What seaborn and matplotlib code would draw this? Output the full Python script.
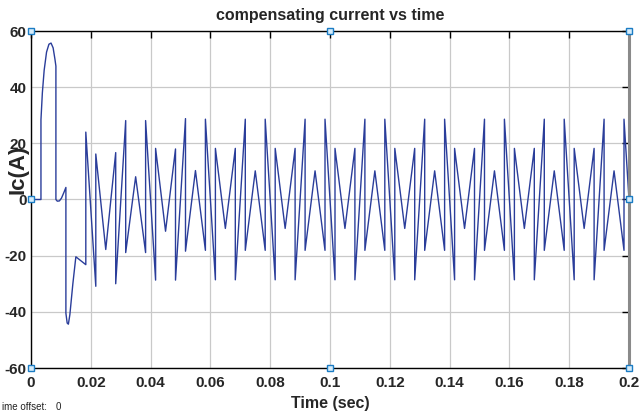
import matplotlib
matplotlib.use("Agg")
import matplotlib.pyplot as plt
from matplotlib import font_manager
import pandas as pd
import seaborn as sns

# Compensating current Ic (A) sampled against time (s)
time_s = [
    0.0, 0.00333, 0.00333, 0.0038, 0.0044, 0.0052, 0.0060, 0.0067, 0.0074, 0.0080, 0.00833,
    0.00833, 0.0088, 0.0095, 0.0102, 0.0110, 0.01167,
    0.01167, 0.0121, 0.0125, 0.0130, 0.0140, 0.0150,
    0.01833, 0.01833, 0.02167, 0.02167, 0.02500, 0.02833, 0.02833,
    0.03167, 0.03167, 0.03500, 0.03833, 0.03833, 0.04167, 0.04167,
    0.04500, 0.04833, 0.04833, 0.05167, 0.05167, 0.05500, 0.05833, 0.05833,
    0.06167, 0.06167, 0.06500, 0.06833, 0.06833, 0.07167, 0.07167, 0.07500, 0.07833, 0.07833,
    0.08167, 0.08167, 0.08500, 0.08833, 0.08833, 0.09167, 0.09167, 0.09500, 0.09833, 0.09833,
    0.10167, 0.10167, 0.10500, 0.10833, 0.10833, 0.11167, 0.11167, 0.11500, 0.11833, 0.11833,
    0.12167, 0.12167, 0.12500, 0.12833, 0.12833, 0.13167, 0.13167, 0.13500, 0.13833, 0.13833,
    0.14167, 0.14167, 0.14500, 0.14833, 0.14833, 0.15167, 0.15167, 0.15500, 0.15833, 0.15833,
    0.16167, 0.16167, 0.16500, 0.16833, 0.16833, 0.17167, 0.17167, 0.17500, 0.17833, 0.17833,
    0.18167, 0.18167, 0.18500, 0.18833, 0.18833, 0.19167, 0.19167, 0.19500, 0.19833, 0.19833,
    0.20167,
]
current_a = [
    0.0, 0.0, 28.4, 38.0, 46.0, 52.5, 55.3, 55.7, 54.0, 50.0, 47.5,
    0.0, -0.6, -0.5, 0.5, 2.5, 4.3,
    -40.5, -44.0, -44.4, -41.0, -30.0, -20.4,
    -23.2, 24.0, -30.9, 16.2, -17.8, 16.7, -30.0,
    28.1, -18.9, 8.1, -18.9, 28.1, -28.7, 18.2,
    -11.3, 18.0, -28.7, 28.8, -18.4, 10.3, -18.1, 28.6,
    -28.6, 18.2, -10.3, 18.2, -28.6, 28.6, -18.1, 10.2, -18.1, 28.6,
    -28.6, 18.2, -10.3, 18.2, -28.6, 28.6, -18.1, 10.2, -18.1, 28.6,
    -28.6, 18.2, -10.3, 18.2, -28.6, 28.6, -18.1, 10.2, -18.1, 28.6,
    -28.6, 18.2, -10.3, 18.2, -28.6, 28.6, -18.1, 10.2, -18.1, 28.6,
    -28.6, 18.2, -10.3, 18.2, -28.6, 28.6, -18.1, 10.2, -18.1, 28.6,
    -28.6, 18.2, -10.3, 18.2, -28.6, 28.6, -18.1, 10.2, -18.1, 28.6,
    -28.6, 18.2, -10.3, 18.2, -28.6, 28.6, -18.1, 10.2, -18.1, 28.6,
    -28.6,
]

x_ticks = [0, 0.02, 0.04, 0.06, 0.08, 0.1, 0.12, 0.14, 0.16, 0.18, 0.2]
x_tick_labels = ["0", "0.02", "0.04", "0.06", "0.08", "0.1", "0.12", "0.14", "0.16", "0.18", "0.2"]
y_ticks = [-60, -40, -20, 0, 20, 40, 60]
y_tick_labels = ["-60", "-40", "-20", "0", "20", "40", "60"]

# selection handles around the axes box
handle_x = [0, 0.1, 0.2, 0, 0.2, 0, 0.1, 0.2]
handle_y = [60, 60, 60, 0, 0, -60, -60, -60]

sns.set_theme(style="white")
available = {f.name for f in font_manager.fontManager.ttflist}
family = "Liberation Sans Narrow" if "Liberation Sans Narrow" in available else "Liberation Sans"
plt.rcParams["font.family"] = [family, "DejaVu Sans"]

df = pd.DataFrame({"Time (sec)": time_s, "Ic(A)": current_a})

fig = plt.figure(figsize=(6.4, 4.19), dpi=100)
ax = fig.add_axes([31 / 640, 1 - 368 / 419, 598 / 640, 337 / 419])

sns.lineplot(data=df, x="Time (sec)", y="Ic(A)", ax=ax, sort=False, estimator=None,
             color="#2a3d9a", linewidth=1.0)

ax.set_xlim(0, 0.2)
ax.set_ylim(-60, 60)
ax.set_xticks(x_ticks)
ax.set_xticklabels(x_tick_labels)
ax.set_yticks(y_ticks)
ax.set_yticklabels(y_tick_labels)
ax.grid(True, color="#c9c9c9", linewidth=0.9)

ax.tick_params(axis="both", direction="in", length=5, width=1, color="black",
               labelsize=11, top=True, right=True)
ax.tick_params(axis="x", pad=6)
ax.tick_params(axis="y", pad=3)
for lbl in ax.get_xticklabels() + ax.get_yticklabels():
    lbl.set_fontweight("bold")

for side in ["top", "left", "bottom"]:
    ax.spines[side].set_color("black")
    ax.spines[side].set_linewidth(1.0)
ax.spines["right"].set_color("#8a8a8a")
ax.spines["right"].set_linewidth(2.2)

ax.set_title("compensating current vs time", fontsize=11.5, fontweight="bold", pad=8)
ax.set_xlabel("Time (sec)", fontsize=11.5, fontweight="bold", labelpad=4)
ax.set_ylabel("Ic(A)", fontsize=16, fontweight="bold")
ax.yaxis.set_label_coords(-0.004, 0.59)

ax.plot(handle_x, handle_y, linestyle="none", marker="s", markersize=4.8,
        markerfacecolor="#d6ecfa", markeredgecolor="#1b7cc4", markeredgewidth=1.0,
        clip_on=False, zorder=5)

fig.text(2 / 640, 1 - 407 / 419, "ime offset:", fontsize=7, va="center", ha="left",
         family=["Liberation Sans", "DejaVu Sans"], color="#222222")
fig.text(56 / 640, 1 - 407 / 419, "0", fontsize=7, va="center", ha="left",
         family=["Liberation Sans", "DejaVu Sans"], color="#222222")

fig.savefig("out.png", dpi=100, facecolor="white")
